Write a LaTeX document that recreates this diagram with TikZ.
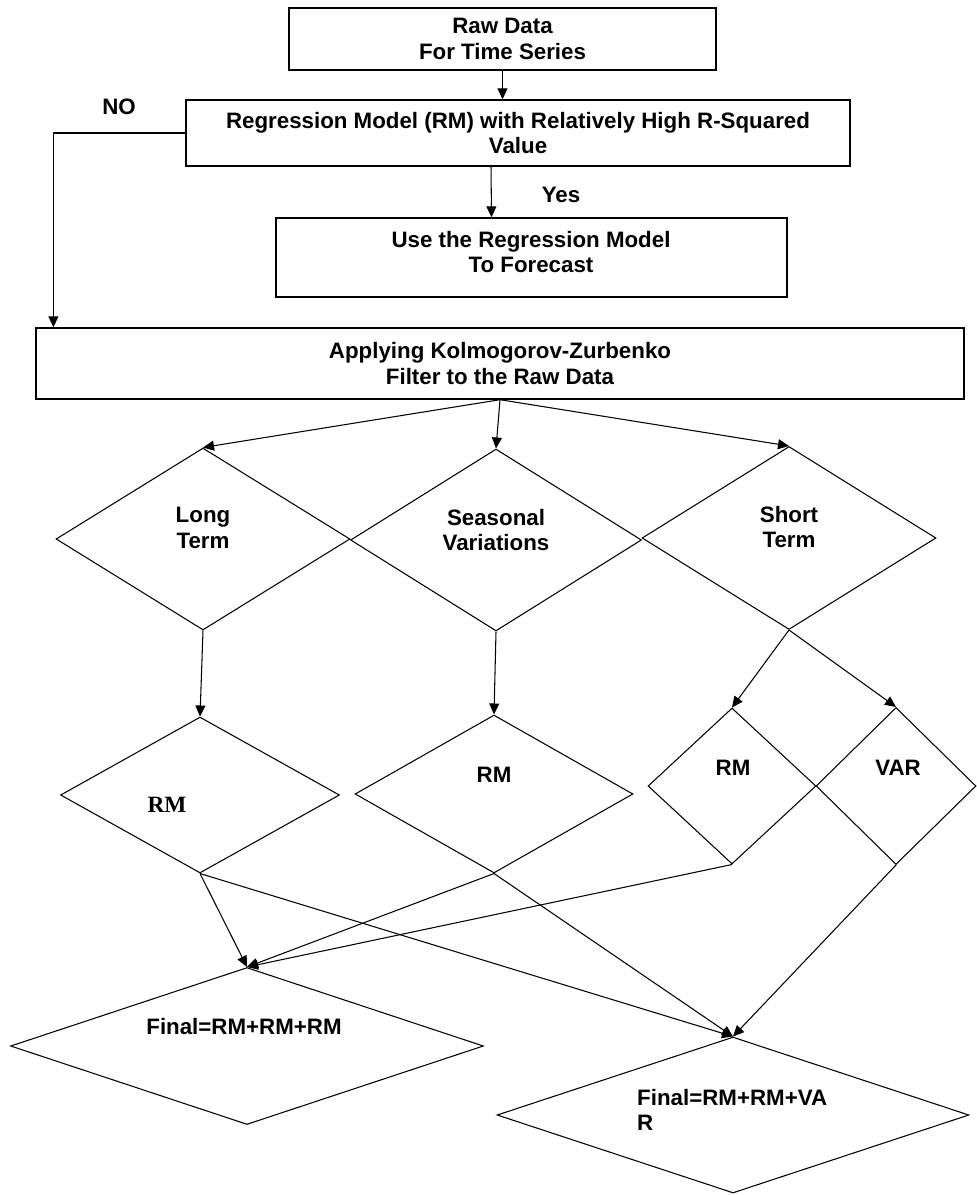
\documentclass[tikz,border=0pt]{standalone}
\usepackage{fontspec}
\setmainfont{Liberation Sans}
\newfontfamily\timesbf{Liberation Serif}
\usetikzlibrary{arrows.meta, positioning, calc, shapes.geometric}

\begin{document}
\begin{tikzpicture}[
    x=0.02cm, y=-0.02cm,
    >={Triangle[length=2.2mm, width=2mm]},
    font=\fontsize{12.7}{14.6}\selectfont\bfseries,
    box/.style={draw, line width=0.8pt, inner sep=0pt, align=center},
    dia/.style={draw, diamond, line width=0.6pt, inner sep=0pt},
    arr/.style={->, line width=0.6pt},
]
    \useasboundingbox (0,0) rectangle (976,1195);

    % boxes at the top
    \node[box, minimum width=8.54cm, minimum height=1.24cm] (raw) at (502.5,39) {Raw Data\\For Time Series};
    \node[box, minimum width=13.28cm, minimum height=1.32cm] (reg) at (518,133) {Regression Model (RM) with Relatively High R-Squared\\Value};
    \node[box, minimum width=10.22cm, minimum height=1.58cm] (use) at (531.5,257.5) {};
    \node[align=center] (uselbl) at (531,252) {Use the Regression Model\\To Forecast};
    \node[box, minimum width=18.56cm, minimum height=1.42cm] (kz) at (500,363.5) {Applying Kolmogorov-Zurbenko\\Filter to the Raw Data};

    \node (no) at (119,107) {NO};
    \node (yes) at (561,195) {Yes};

    % components
    \node[dia, minimum width=5.88cm, minimum height=3.64cm] (lt) at (203,539) {};
    \node[align=center] (ltlbl) at (203,528) {Long\\Term};
    \node[dia, minimum width=5.82cm, minimum height=3.64cm] (sv) at (496,540) {};
    \node[align=center] (svlbl) at (496,530) {Seasonal\\Variations};
    \node[dia, minimum width=5.88cm, minimum height=3.66cm] (st) at (789,538) {};
    \node[align=center] (stlbl) at (789,527) {Short\\Term};

    % models
    \node[dia, minimum width=5.58cm, minimum height=3.12cm] (rm1) at (200,795) {};
    \node[font=\fontsize{13.3}{15}\selectfont\timesbf\bfseries] (rm1lbl) at (167,805) {RM};
    \node[dia, minimum width=5.56cm, minimum height=3.16cm] (rm2) at (494,794) {};
    \node (rm2lbl) at (494,775) {RM};
    \node[dia, minimum width=3.36cm, minimum height=3.12cm] (rm3) at (732,786) {};
    \node (rm3lbl) at (733,768) {RM};
    \node[dia, minimum width=3.2cm, minimum height=3.14cm] (var) at (896,786) {};
    \node (varlbl) at (898,768) {VAR};

    % results
    \node[dia, minimum width=9.46cm, minimum height=3.14cm] (f1) at (247,1046) {};
    \node (f1lbl) at (244,1027) {Final=RM+RM+RM};
    \node[dia, minimum width=9.44cm, minimum height=3.12cm] (f2) at (733,1115) {};
    \node[align=left, anchor=west] (f2lbl) at (631,1110) {Final=RM+RM+VA\\R};

    % connectors
    \draw[arr] (raw.south) -- (raw.south |- reg.north);
    \draw[arr] (reg.west) -| ($(kz.north west)+(18,0)$);
    \draw[arr] ($(reg.south)+(-27,0)$) -- ($(use.north)+(-40,0)$);
    \foreach \d in {lt, sv, st}
        \draw[arr] (kz.south) -- (\d.north);
    \draw[arr] (lt.south) -- (rm1.north);
    \draw[arr] (sv.south) -- (rm2.north);
    \draw[arr] (st.south) -- (rm3.north);
    \draw[arr] (st.south) -- (var.north);
    \foreach \d in {rm1, rm2, rm3}
        \draw[arr] (\d.south) -- (f1.north);
    \foreach \d in {rm1, rm2, var}
        \draw[arr] (\d.south) -- (f2.north);
\end{tikzpicture}
\end{document}
